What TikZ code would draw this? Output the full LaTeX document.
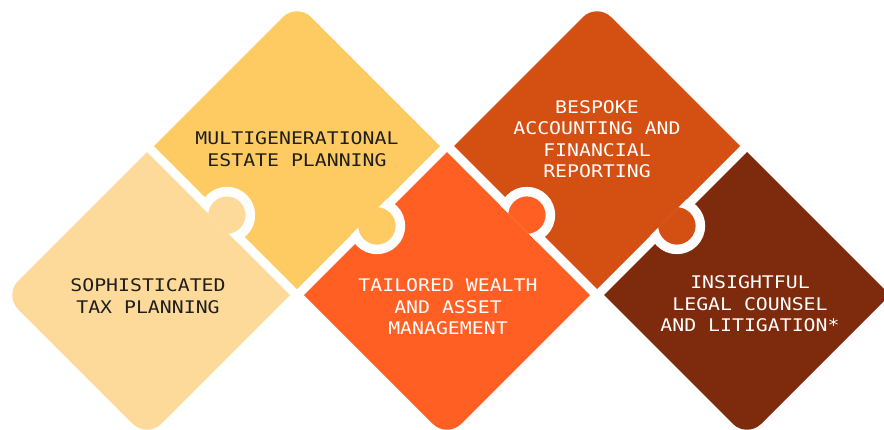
\documentclass[tikz,border=0pt]{standalone}
\usepackage{fontspec}
\newfontfamily\monof[FakeStretch=1.14]{DejaVu Sans Mono}
\definecolor{cpeach}{HTML}{FDDA9A}
\definecolor{cyellow}{HTML}{FDCB62}
\definecolor{corange}{HTML}{FF5F22}
\definecolor{cdark}{HTML}{D44F12}
\definecolor{cbrown}{HTML}{7E2A0C}
\definecolor{cink}{HTML}{1E1E1E}
\tikzset{
  labeltext/.style={font=\monof\fontsize{17.4}{21.5}\selectfont, align=center, inner sep=0pt},
  knobline/.style={line width=9.5pt, draw=white},
}
\begin{document}
\begin{tikzpicture}[x=1pt,y=-1pt]
\useasboundingbox (0,0) rectangle (884,429);
\clip (0,0) rectangle (884,429);
\fill[white] (0,0) rectangle (884,429);

% peach piece: bottom and left corners rounded
\fill[cpeach, shift={(147,295)}] (0,-143) -- (143,0) -- (14.14,128.86) .. controls (6.33,136.67) and (-6.33,136.67) .. (-14.14,128.86) -- (-128.86,14.14) .. controls (-136.67,6.33) and (-136.67,-6.33) .. (-128.86,-14.14) -- cycle;
% yellow piece: top corner rounded
\fill[cyellow, shift={(297,146)}] (-14.14,-128.86) .. controls (-6.33,-136.67) and (6.33,-136.67) .. (14.14,-128.86) -- (143,0) -- (0,143) -- (-143,0) -- cycle;
% orange piece: bottom corner rounded
\fill[corange, shift={(447,295)}] (0,-143) -- (143,0) -- (14.14,128.86) .. controls (6.33,136.67) and (-6.33,136.67) .. (-14.14,128.86) -- (-143,0) -- cycle;
% dark orange piece: top corner rounded
\fill[cdark, shift={(597,146)}] (-14.14,-128.86) .. controls (-6.33,-136.67) and (6.33,-136.67) .. (14.14,-128.86) -- (143,0) -- (0,143) -- (-143,0) -- cycle;
% brown piece: bottom corner rounded, right corner cut by the edge
\fill[cbrown, shift={(747,295)}] (0,-143) -- (143,0) -- (14.14,128.86) .. controls (6.33,136.67) and (-6.33,136.67) .. (-14.14,128.86) -- (-143,0) -- cycle;

% knobs
\begin{scope}[shift={(147,295)}, rotate=45]
  \clip (101.1,-70) rectangle (170,70);
  \draw[knobline, fill=cpeach] (113,0) circle[radius=23.5pt];
\end{scope}
\begin{scope}[shift={(297,146)}, rotate=-45]
  \clip (101.1,-70) rectangle (170,70);
  \draw[knobline, fill=cyellow] (113,0) circle[radius=23.5pt];
\end{scope}
\begin{scope}[shift={(447,295)}, rotate=45]
  \clip (101.1,-70) rectangle (170,70);
  \draw[knobline, fill=corange] (113,0) circle[radius=23.5pt];
\end{scope}
\begin{scope}[shift={(597,146)}, rotate=-45]
  \clip (101.1,-70) rectangle (170,70);
  \draw[knobline, fill=cdark] (113,0) circle[radius=23.5pt];
\end{scope}

% labels
\node[labeltext, text=cink] (tax) at (148,296) {SOPHISTICATED\\TAX PLANNING};
\node[labeltext, text=cink] (estate) at (297,149) {MULTIGENERATIONAL\\ESTATE PLANNING};
\node[labeltext, text=white] (wealth) at (448,307) {TAILORED WEALTH\\AND ASSET\\MANAGEMENT};
\node[labeltext, text=white] (acct) at (597,139) {BESPOKE\\ACCOUNTING AND\\FINANCIAL\\REPORTING};
\node[labeltext, text=white] (legal) at (750,304) {INSIGHTFUL\\LEGAL COUNSEL\\AND LITIGATION*};
\end{tikzpicture}
\end{document}
